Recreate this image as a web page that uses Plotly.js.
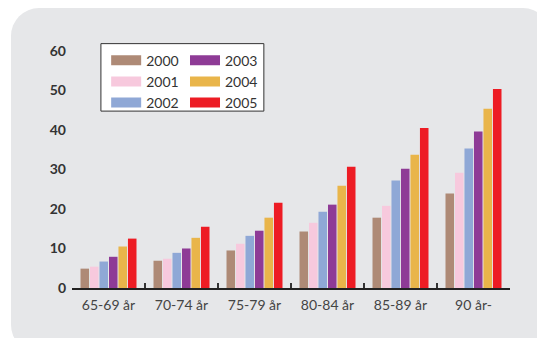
<!DOCTYPE html>
<html>
<head>
<meta charset="utf-8">
<script src="https://cdn.plot.ly/plotly-3.0.1.min.js"></script>
<style>
  html, body { margin: 0; padding: 0; background: #ffffff; width: 537px; height: 338px; overflow: hidden; }
  #panel { position: absolute; left: 11px; top: 8px; width: 540px; height: 345px; background: #e6e7e9; border-radius: 28px; }
  #chart { position: absolute; left: 0; top: 0; width: 537px; height: 338px; }
</style>
</head>
<body>
<div id="panel"></div>
<div id="chart"></div>
<script>
const categories = ['65-69 år', '70-74 år', '75-79 år', '80-84 år', '85-89 år', '90 år-'];
const years = ['2000', '2001', '2002', '2003', '2004', '2005'];
const v2000 = [4.9, 6.9, 9.5, 14.3, 17.8, 23.9];
const v2001 = [5.4, 7.4, 11.2, 16.5, 20.8, 29.2];
const v2002 = [6.7, 8.9, 13.2, 19.3, 27.2, 35.3];
const v2003 = [7.9, 10.0, 14.5, 21.1, 30.2, 39.6];
const v2004 = [10.5, 12.7, 17.8, 25.9, 33.7, 45.4];
const v2005 = [12.5, 15.5, 21.6, 30.7, 40.5, 50.4];
const yTicks = [0, 10, 20, 30, 40, 50, 60];
const darkGrid = [20, 40, 50];
const grayGrid = [10, 30, 60];

const seriesValues = [v2000, v2001, v2002, v2003, v2004, v2005];
const colors = ['#ae8a76', '#f7c9dd', '#8fa8d6', '#8e3b96', '#e9b54a', '#ed1c24'];
const legendOf = ['legend', 'legend', 'legend', 'legend2', 'legend2', 'legend2'];

const barTraces = years.map((y, i) => ({
  type: 'bar',
  name: y,
  x: categories,
  y: seriesValues[i],
  marker: { color: colors[i], line: { width: 0 } },
  legendgroup: y,
  showlegend: false,
  hoverinfo: 'x+y+name'
}));

// legend swatches (wide rectangles like the original key)
const keyTraces = years.map((y, i) => ({
  type: 'scatter',
  mode: 'lines',
  name: y,
  x: [null],
  y: [null],
  line: { color: colors[i], width: 13 },
  legendgroup: y,
  legend: legendOf[i],
  hoverinfo: 'skip'
}));

const font = 'Lato, "Open Sans", sans-serif';
const legendBase = {
  orientation: 'v',
  bgcolor: 'rgba(0,0,0,0)',
  borderwidth: 0,
  font: { family: font, size: 14, color: '#333333' },
  xanchor: 'left',
  yanchor: 'top',
  tracegroupgap: 0,
  itemclick: false,
  itemdoubleclick: false
};

const layout = {
  width: 537,
  height: 338,
  margin: { l: 72, r: 27, t: 47, b: 50, pad: 0 },
  paper_bgcolor: 'rgba(0,0,0,0)',
  plot_bgcolor: 'rgba(0,0,0,0)',
  barmode: 'group',
  bargap: 0.22,
  bargroupgap: 0.1,
  font: { family: font, color: '#333333' },
  showlegend: true,
  legend: Object.assign({}, legendBase, { x: 0.078, y: 1.01 }),
  legend2: Object.assign({}, legendBase, { x: 0.258, y: 1.01 }),
  xaxis: {
    type: 'category',
    showgrid: false,
    showline: true,
    linecolor: '#222222',
    linewidth: 2,
    ticks: 'inside',
    tickson: 'boundaries',
    ticklen: 5,
    tickwidth: 1.5,
    tickcolor: '#333333',
    tickfont: { family: font, size: 14, color: '#444444' },
    ticklabelstandoff: 3,
    fixedrange: true
  },
  yaxis: {
    range: [0, 61],
    tickvals: yTicks,
    ticktext: yTicks.map(String),
    showgrid: false,
    zeroline: false,
    showline: false,
    ticks: '',
    tickfont: { family: font, size: 14, color: '#333333', weight: 'bold' },
    ticklabelstandoff: 5,
    fixedrange: true
  },
  yaxis2: {
    overlaying: 'y',
    anchor: 'x',
    range: [0, 61],
    tickvals: darkGrid,
    showticklabels: false,
    showgrid: true,
    gridcolor: '#3a3a3a',
    gridwidth: 1.6,
    zeroline: false,
    ticks: '',
    fixedrange: true
  },
  yaxis3: {
    overlaying: 'y',
    anchor: 'x',
    range: [0, 61],
    tickvals: grayGrid,
    showticklabels: false,
    showgrid: true,
    gridcolor: '#858585',
    gridwidth: 1.8,
    zeroline: false,
    ticks: '',
    fixedrange: true
  },
  shapes: [{
    type: 'rect', xref: 'paper', yref: 'paper',
    x0: 0.066, x1: 0.438, y0: 0.734, y1: 1.014,
    fillcolor: '#ffffff',
    line: { color: '#333333', width: 1 },
    layer: 'above'
  }]
};

Plotly.newPlot('chart', barTraces.concat(keyTraces), layout, { displayModeBar: false, staticPlot: true });
</script>
</body>
</html>
